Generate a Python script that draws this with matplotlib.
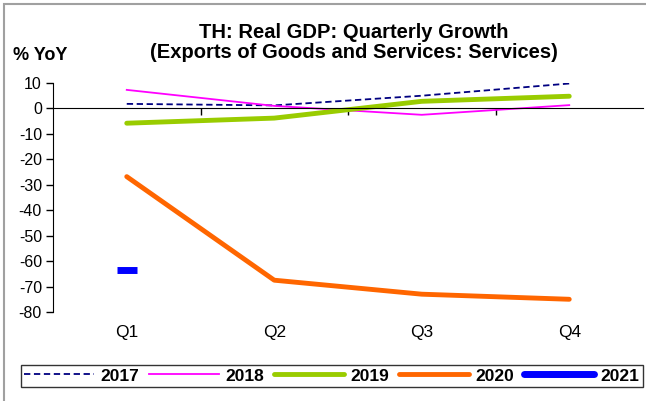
import numpy as np
import matplotlib.pyplot as plt
from matplotlib.patches import Rectangle

plt.rcParams['font.family'] = ['Liberation Sans', 'DejaVu Sans']
plt.rcParams['axes.unicode_minus'] = False

quarters = ['Q1', 'Q2', 'Q3', 'Q4']
y2017 = [1.8, 1.2, 5.0, 9.8]
y2018 = [7.3, 1.0, -2.5, 1.3]
y2019 = [-5.8, -3.8, 2.8, 4.8]
y2020 = [-26.8, -67.5, -73.0, -75.0]
y2021 = [-63.5]

x = np.arange(len(quarters))

fig = plt.figure(figsize=(6.46, 4.01), dpi=100)
ax = fig.add_axes([53/646, 1-312/401, 590/646, 229/401])

ax.plot(x, y2017, color='#000080', lw=1.3, ls=(0, (3.5, 2)), label='2017')
ax.plot(x, y2018, color='#FF00FF', lw=1.3, label='2018')
ax.plot(x, y2019, color='#99CC00', lw=3.5, label='2019', solid_capstyle='round')
ax.plot(x, y2020, color='#FF6600', lw=3.5, label='2020', solid_capstyle='round')
ax.plot(x[:len(y2021)], y2021, color='#0000FF', lw=5, marker='_', ms=15, mew=5,
        label='2021', solid_capstyle='round')

ax.set_xlim(-0.5, 3.5)
ax.set_ylim(-80, 10)
ax.set_yticks(np.arange(-80, 11, 10))
ax.tick_params(axis='y', labelsize=11.5, length=5, width=1, direction='out', pad=3)
ax.spines['bottom'].set_position(('data', 0))
ax.spines['top'].set_visible(False)
ax.spines['right'].set_visible(False)
ax.set_xticks([0.5, 1.5, 2.5])
ax.set_xticklabels([])
ax.tick_params(axis='x', length=5, width=1, direction='out')
for i, q in enumerate(quarters):
    ax.text(i, -0.055, q, transform=ax.get_xaxis_transform(), ha='center', va='top',
            fontsize=12.5)

fig.text(0.548, 1-33/401, 'TH: Real GDP: Quarterly Growth',
         ha='center', va='center', fontsize=14.5, fontweight='bold')
fig.text(0.548, 1-53/401, '(Exports of Goods and Services: Services)',
         ha='center', va='center', fontsize=14.5, fontweight='bold')
fig.text(13/646, 1-56/401, '% YoY', ha='left', va='center', fontsize=13, fontweight='bold')

leg = fig.legend(loc='lower left', bbox_to_anchor=(21/646, 1-387/401, 622/646, 25/401),
                 mode='expand', ncol=5, frameon=True, fancybox=False, handlelength=4.0,
                 prop={'weight': 'bold', 'size': 12.5}, borderaxespad=0, borderpad=0.2,
                 handletextpad=0.4)
leg.get_frame().set_edgecolor('black')
leg.get_frame().set_linewidth(1)

fig.patches.append(Rectangle((4/646, -0.1), 1.1, 1.1 - 4/401, transform=fig.transFigure,
                             fill=False, edgecolor='#A0A0A0', lw=1.5))

fig.savefig('out.png', dpi=100)
